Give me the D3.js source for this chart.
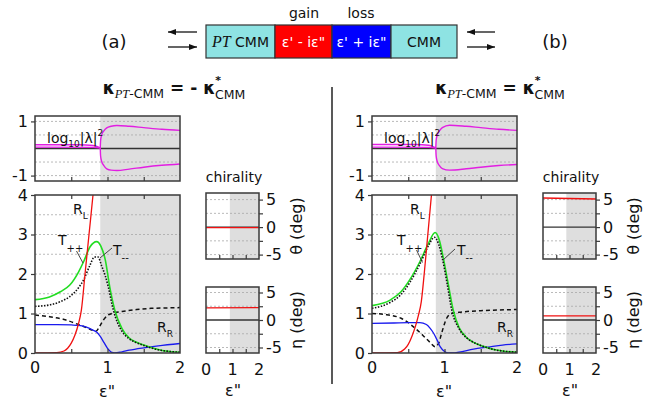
<!DOCTYPE html>
<html><head><meta charset="utf-8">
<script src="https://cdn.jsdelivr.net/npm/d3@7"></script>
<style>
body{margin:0;background:#fff}
svg{display:block}
text{font-family:"DejaVu Sans",Verdana,sans-serif;fill:#111}
</style>
</head><body>
<svg id="c" width="664" height="407"></svg>
<script>
// ---------- tick labels ----------
const xTickLabels = [0, 1, 2];
const xMinorTicks = [0.5, 1, 1.5];
const mainTicks = [0, 1, 2, 3, 4];
const mainGrid = [0.5, 1, 1.5, 2, 2.5, 3, 3.5];
const logTicks = [-1, 1];
const logGrid = [-1, -0.5, 0.5, 1];
const chiTicks = [-5, 0, 5];
const chiTickMarks = [-5, -2.5, 0, 2.5, 5];
const chiGrid = [-5, -2.5, 2.5, 5];

// ---------- panel (a) data ----------
const a_EP = 0.9;
const a_logUp1 = [[0,0.14],[0.6,0.14],[0.8,0.11],[0.87,0.06],[0.9,0.02]];
const a_logUp2 = [[0,0.05],[0.8,0.04],[0.9,0.02]];
const a_logA = [[0.9,0.02],[0.905,0.3],[0.92,0.5],[0.95,0.65],[0.99,0.76],[1.05,0.82],[1.13,0.85],[1.3,0.82],[1.5,0.77],[1.75,0.71],[2,0.67]];
const a_logB = [[0.9,0.02],[0.905,-0.28],[0.92,-0.48],[0.95,-0.63],[0.99,-0.75],[1.05,-0.8],[1.13,-0.81],[1.3,-0.76],[1.5,-0.69],[1.75,-0.62],[2,-0.57]];
const a_RL = [[0,0],[0.3,0.01],[0.4,0.05],[0.45,0.12],[0.5,0.25],[0.55,0.45],[0.6,0.74],[0.64,1.09],[0.69,2.0],[0.745,3.0],[0.8,4.0],[0.82,4.4]];
const a_Tpp = [[0,1.35],[0.2,1.42],[0.35,1.55],[0.48,1.72],[0.6,2.05],[0.67,2.31],[0.76,2.69],[0.85,2.82],[0.91,2.7],[0.97,2.35],[1.03,1.68],[1.1,1.09],[1.2,0.62],[1.3,0.38],[1.4,0.27],[1.5,0.2],[1.6,0.14],[1.7,0.09],[1.8,0.05],[2,0.02]];
const a_Tmm = [[0,1.18],[0.21,1.22],[0.35,1.3],[0.48,1.43],[0.6,1.65],[0.67,1.85],[0.76,2.23],[0.82,2.43],[0.87,2.43],[0.92,2.2],[0.97,1.95],[1.01,1.68],[1.08,1.09],[1.2,0.55],[1.3,0.36],[1.4,0.26],[1.5,0.19],[1.6,0.13],[1.7,0.08],[1.8,0.05],[2,0.02]];
const a_Rdash = [[0,0.96],[0.2,0.92],[0.4,0.85],[0.6,0.72],[0.7,0.65],[0.8,0.57],[0.84,0.55],[0.9,0.7],[0.95,0.85],[1.0,0.95],[1.1,1.02],[1.2,1.05],[1.4,1.1],[1.6,1.13],[1.8,1.14],[2,1.15]];
const a_RR = [[0,0.72],[0.3,0.72],[0.5,0.71],[0.6,0.7],[0.7,0.66],[0.8,0.58],[0.85,0.53],[0.9,0.42],[0.95,0.27],[1.0,0.12],[1.05,0.02],[1.1,0.0],[1.2,0.03],[1.3,0.07],[1.5,0.13],[1.7,0.18],[2,0.24]];
const a_theta = [[0,-0.1],[2,-0.1]];
const a_eta = [[0,2.2],[2,2.25]];

// ---------- panel (b) data ----------
const b_EP = 0.88;
const b_logUp1 = [[0,0.15],[0.6,0.15],[0.78,0.12],[0.85,0.06],[0.88,0.02]];
const b_logUp2 = [[0,0.05],[0.78,0.04],[0.88,0.02]];
const b_logA = [[0.88,0.02],[0.885,0.3],[0.9,0.5],[0.93,0.65],[0.97,0.77],[1.07,0.86],[1.3,0.82],[1.5,0.77],[1.75,0.71],[2,0.67]];
const b_logB = [[0.88,0.02],[0.885,-0.28],[0.9,-0.48],[0.93,-0.63],[0.97,-0.74],[1.07,-0.8],[1.3,-0.75],[1.5,-0.69],[1.75,-0.63],[2,-0.59]];
const b_RL = [[0,0],[0.35,0.01],[0.45,0.1],[0.5,0.22],[0.55,0.42],[0.6,0.68],[0.64,0.95],[0.68,1.3],[0.72,2.0],[0.77,3.0],[0.82,4.0],[0.84,4.4]];
const b_Tpp = [[0,1.2],[0.25,1.34],[0.4,1.55],[0.52,1.85],[0.66,2.31],[0.78,2.78],[0.87,3.05],[0.93,2.85],[0.98,2.44],[1.05,1.76],[1.12,1.09],[1.2,0.65],[1.3,0.4],[1.4,0.27],[1.5,0.19],[1.6,0.13],[1.7,0.08],[1.8,0.05],[2,0.02]];
const b_Tmm = [[0,1.13],[0.25,1.28],[0.4,1.48],[0.52,1.78],[0.66,2.25],[0.78,2.72],[0.86,2.93],[0.92,2.75],[0.97,2.4],[1.04,1.72],[1.1,1.09],[1.2,0.62],[1.3,0.39],[1.4,0.27],[1.5,0.19],[1.6,0.13],[1.7,0.08],[1.8,0.05],[2,0.02]];
const b_Rdash = [[0,1.0],[0.2,0.97],[0.4,0.88],[0.6,0.62],[0.7,0.45],[0.8,0.27],[0.87,0.16],[0.92,0.25],[0.96,0.5],[1.03,0.88],[1.1,1.0],[1.2,1.03],[1.5,1.07],[2,1.1]];
const b_RR = [[0,0.75],[0.3,0.76],[0.5,0.77],[0.66,0.77],[0.75,0.72],[0.8,0.63],[0.85,0.5],[0.9,0.32],[0.94,0.16],[1.0,0.04],[1.05,0.0],[1.12,0.0],[1.2,0.02],[1.4,0.1],[1.6,0.15],[1.8,0.2],[2,0.23]];
const b_theta = [[0,5.3],[2,5.1]];
const b_eta = [[0,0.75],[2,0.75]];

// ---------- drawing ----------
const svg = d3.select('#c');
const C = {red:'#f01010', green:'#22dd22', blue:'#1a1aee', mag:'#e21ee2', shade:'#dedede', frame:'#3a3a3a', grid:'#a8a8a8'};
const FF = '"DejaVu Sans",Verdana,sans-serif';

function subText(g, x, y, main, sub, size, subSize, opts={}) {
  const t = g.append('text').attr('x', x).attr('y', y).attr('font-size', size);
  t.append('tspan').text(main);
  t.append('tspan').attr('font-size', subSize).attr('dy', opts.dy || 4).text(sub);
  return t;
}

function styleAxis(ax) {
  ax.select('.domain').remove();
  ax.selectAll('line').attr('stroke', C.frame).attr('stroke-width', 1.2);
  ax.selectAll('text').attr('font-size', 16).attr('font-family', FF).attr('fill', '#111');
}

function drawSide(dx, d, key) {
  const g = svg.append('g').attr('transform', `translate(${dx},0)`);
  const x = d3.scaleLinear().domain([0, 2]).range([35, 180]);
  const yM = d3.scaleLinear().domain([0, 4]).range([353, 195]);
  const yL = d3.scaleLinear().domain([-1.2, 1.2]).range([181, 116]);
  const xc = d3.scaleLinear().domain([0, 2]).range([206, 259]);
  const yT = d3.scaleLinear().domain([-5.8, 6.2]).range([259, 193]);
  const yE = d3.scaleLinear().domain([-6, 6]).range([353, 287]);

  const defs = g.append('defs');
  function clip(id, x0, y0, w, h) {
    defs.append('clipPath').attr('id', id).append('rect').attr('x', x0).attr('y', y0).attr('width', w).attr('height', h);
    return `url(#${id})`;
  }

  function framePanel(xs, ys, opts) {
    const [x0, x1] = xs.range(); const [y1, y0] = ys.range();
    g.append('rect').attr('x', xs(opts.ep)).attr('y', y0).attr('width', xs(2) - xs(opts.ep)).attr('height', y1 - y0).attr('fill', C.shade);
    g.selectAll(null).data(opts.grid).enter().append('line')
      .attr('x1', x0).attr('x2', x1).attr('y1', v => ys(v)).attr('y2', v => ys(v))
      .attr('stroke', C.grid).attr('stroke-width', 0.8).attr('stroke-dasharray', '2,2');
    if (opts.zero) {
      g.append('line').attr('x1', x0).attr('x2', x1).attr('y1', ys(0)).attr('y2', ys(0))
        .attr('stroke', '#333').attr('stroke-width', 1.3);
    }
    const cp = clip(`clip-${key}-${opts.id}`, x0, y0, x1 - x0, y1 - y0);
    return g.append('g').attr('clip-path', cp);
  }

  function frameTicks(xs, ys, opts) {
    const [x0, x1] = xs.range(); const [y1, y0] = ys.range();
    g.append('rect').attr('x', x0).attr('y', y0).attr('width', x1 - x0).attr('height', y1 - y0)
      .attr('fill', 'none').attr('stroke', C.frame).attr('stroke-width', 1.5);
    const bx = g.append('g').attr('transform', `translate(0,${y1})`).call(d3.axisTop(xs).tickValues(xMinorTicks).tickSize(4).tickFormat(''));
    styleAxis(bx);
    if (opts.topTicks) {
      const tx = g.append('g').attr('transform', `translate(0,${y0})`).call(d3.axisBottom(xs).tickValues(xMinorTicks).tickSize(4).tickFormat(''));
      styleAxis(tx);
    }
    if (opts.xLabels) {
      g.selectAll(null).data(xTickLabels).enter().append('text')
        .attr('x', v => xs(v)).attr('y', opts.xLabelY).attr('text-anchor', 'middle').attr('font-size', 16).text(v => v);
    }
  }

  const line = (xs, ys) => d3.line().x(p => xs(p[0])).y(p => ys(p[1])).curve(d3.curveMonotoneX);
  const fmt = v => String(v);

  // ---- top: log10|lambda|^2 ----
  const lt = framePanel(x, yL, {ep: d.ep, grid: logGrid, zero: true, id: 'log'});
  const lgen = line(x, yL);
  [d.logUp1, d.logUp2, d.logA, d.logB].forEach(s =>
    lt.append('path').attr('d', lgen(s)).attr('fill', 'none').attr('stroke', C.mag).attr('stroke-width', 1.4));
  frameTicks(x, yL, {});
  const ly = g.append('g').attr('transform', 'translate(35,0)').call(d3.axisLeft(yL).tickValues(logTicks).tickSize(4).tickPadding(3).tickFormat(fmt));
  styleAxis(ly);
  const lab = g.append('text').attr('x', 47).attr('y', 143).attr('font-size', 14);
  lab.append('tspan').text('log');
  lab.append('tspan').attr('font-size', 9).attr('dy', 4).text('10');
  lab.append('tspan').attr('dy', -4).text('|λ|');
  lab.append('tspan').attr('font-size', 9).attr('dy', -7).text('2');

  // ---- main panel ----
  const mt = framePanel(x, yM, {ep: d.ep, grid: mainGrid, zero: false, id: 'main'});
  const mgen = line(x, yM);
  mt.append('path').attr('d', mgen(d.Rdash)).attr('fill', 'none').attr('stroke', '#111').attr('stroke-width', 1.5).attr('stroke-dasharray', '4,3');
  mt.append('path').attr('d', mgen(d.RR)).attr('fill', 'none').attr('stroke', C.blue).attr('stroke-width', 1.3);
  mt.append('path').attr('d', mgen(d.Tpp)).attr('fill', 'none').attr('stroke', C.green).attr('stroke-width', 1.6);
  mt.append('path').attr('d', mgen(d.Tmm)).attr('fill', 'none').attr('stroke', '#111').attr('stroke-width', 1.6).attr('stroke-dasharray', '1.5,1.5');
  mt.append('path').attr('d', mgen(d.RL)).attr('fill', 'none').attr('stroke', C.red).attr('stroke-width', 1.3);
  frameTicks(x, yM, {topTicks: true, xLabels: true, xLabelY: 373});
  const my = g.append('g').attr('transform', 'translate(35,0)').call(d3.axisLeft(yM).tickValues(mainTicks).tickSize(4).tickPadding(3).tickFormat(fmt));
  styleAxis(my);
  g.append('text').attr('x', 107).attr('y', 397).attr('text-anchor', 'middle').attr('font-size', 16).text('ε"');

  // annotations
  const L = d.labels;
  subText(g, L.RL[0], L.RL[1], 'R', 'L', 14, 9, {dy: 5});
  subText(g, L.Tpp[0], L.Tpp[1], 'T', '++', 14, 10, {dy: 7});
  subText(g, L.Tmm[0], L.Tmm[1], 'T', '--', 14, 10, {dy: 6});
  subText(g, L.RR[0], L.RR[1], 'R', 'R', 14, 9, {dy: 5});
  [L.lTpp, L.lTmm].forEach(s => g.append('line').attr('x1', s[0]).attr('y1', s[1]).attr('x2', s[2]).attr('y2', s[3]).attr('stroke', '#333').attr('stroke-width', 0.9));

  // ---- chirality panels ----
  g.append('text').attr('x', 234).attr('y', 182).attr('text-anchor', 'middle').attr('font-size', 14).text('chirality');
  [[yT, d.theta, 'θ (deg)', 'th'], [yE, d.eta, 'η (deg)', 'eta']].forEach(([ys, data, title, id], i) => {
    const layer = framePanel(xc, ys, {ep: d.ep, grid: chiGrid, zero: true, id});
    layer.append('path').attr('d', line(xc, ys)(data)).attr('fill', 'none').attr('stroke', C.red).attr('stroke-width', 1.4);
    frameTicks(xc, ys, {xLabels: i === 1, xLabelY: 375});
    const ay = g.append('g').attr('transform', 'translate(259,0)').call(d3.axisRight(ys).tickValues(chiTickMarks).tickSize(4).tickPadding(3).tickFormat(v => chiTicks.includes(v) ? fmt(v) : ''));
    styleAxis(ay);
    const cy = (ys.range()[0] + ys.range()[1]) / 2;
    g.append('text').attr('transform', `translate(302,${cy}) rotate(-90)`).attr('text-anchor', 'middle').attr('font-size', 16).text(title);
  });
  g.append('text').attr('x', 233).attr('y', 396).attr('text-anchor', 'middle').attr('font-size', 16).text('ε"');
}

drawSide(0, {
  ep: a_EP, logUp1: a_logUp1, logUp2: a_logUp2, logA: a_logA, logB: a_logB,
  RL: a_RL, Tpp: a_Tpp, Tmm: a_Tmm, Rdash: a_Rdash, RR: a_RR, theta: a_theta, eta: a_eta,
  labels: {RL: [73, 214], Tpp: [58, 245], Tmm: [113, 255], RR: [157, 332], lTpp: [76.5, 251, 83, 263], lTmm: [112, 248, 100, 258]}
}, 'a');
drawSide(337, {
  ep: b_EP, logUp1: b_logUp1, logUp2: b_logUp2, logA: b_logA, logB: b_logB,
  RL: b_RL, Tpp: b_Tpp, Tmm: b_Tmm, Rdash: b_Rdash, RR: b_RR, theta: b_theta, eta: b_eta,
  labels: {RL: [73, 214], Tpp: [60, 245], Tmm: [120, 255], RR: [160, 332], lTpp: [79.5, 250, 85.5, 262.5], lTmm: [118, 249, 106, 260]}
}, 'b');

// ---------- titles ----------
function kappaTitle(cx, y, minus) {
  const t = svg.append('text').attr('x', cx).attr('y', y).attr('text-anchor', 'middle').attr('font-size', 17).attr('font-weight', 'bold');
  t.append('tspan').text('κ');
  t.append('tspan').attr('font-size', 12.5).attr('font-weight', 'normal').attr('font-style', 'italic').attr('font-family', '"Liberation Serif",serif').attr('dy', 4).text('PT');
  t.append('tspan').attr('font-size', 12.5).attr('font-weight', 'normal').text('-CMM');
  t.append('tspan').attr('dy', -4).text(minus ? ' = - κ' : ' = κ');
  t.append('tspan').attr('font-size', 11).attr('dy', -10).text('*');
  t.append('tspan').attr('font-size', 12.5).attr('font-weight', 'normal').attr('dx', -6).attr('dy', 15).text('CMM');
}
kappaTitle(174, 94, true);
kappaTitle(500, 94, false);

// divider
svg.append('line').attr('x1', 332).attr('x2', 332).attr('y1', 87).attr('y2', 384).attr('stroke', '#222').attr('stroke-width', 1.5);

// ---------- schematic ----------
const boxSegs = [[206, 275, '#8ee3e3'], [275, 332, '#ff0000'], [332, 391, '#0000ff'], [391, 457, '#8ee3e3']];
boxSegs.forEach(s => svg.append('rect').attr('x', s[0]).attr('y', 25).attr('width', s[1] - s[0]).attr('height', 33).attr('fill', s[2]).attr('stroke', '#333').attr('stroke-width', 1.2));
const t1 = svg.append('text').attr('x', 240.5).attr('y', 46.5).attr('text-anchor', 'middle').attr('font-size', 14);
t1.append('tspan').attr('font-family', '"Liberation Serif",serif').attr('font-style', 'italic').attr('font-size', 16).text('PT');
t1.append('tspan').text(' CMM');
svg.append('text').attr('x', 303.5).attr('y', 46.5).attr('text-anchor', 'middle').attr('font-size', 14).style('fill', '#fff').text("ε' - iε\"");
svg.append('text').attr('x', 361.5).attr('y', 46.5).attr('text-anchor', 'middle').attr('font-size', 14).style('fill', '#fff').text("ε' + iε\"");
svg.append('text').attr('x', 424).attr('y', 46.5).attr('text-anchor', 'middle').attr('font-size', 14).text('CMM');
svg.append('text').attr('x', 304).attr('y', 18).attr('text-anchor', 'middle').attr('font-size', 14).text('gain');
svg.append('text').attr('x', 361).attr('y', 18).attr('text-anchor', 'middle').attr('font-size', 14).text('loss');
svg.append('text').attr('x', 114).attr('y', 48).attr('text-anchor', 'middle').attr('font-size', 18).text('(a)');
svg.append('text').attr('x', 555).attr('y', 48).attr('text-anchor', 'middle').attr('font-size', 18).text('(b)');

function arrow(x1, x2, y) {
  svg.append('line').attr('x1', x1).attr('x2', x2).attr('y1', y).attr('y2', y).attr('stroke', '#111').attr('stroke-width', 1.3);
  const dir = Math.sign(x2 - x1);
  svg.append('path').attr('d', `M${x2},${y} L${x2 - dir * 8},${y - 3} L${x2 - dir * 8},${y + 3} Z`).attr('fill', '#111');
}
arrow(197, 168, 32); arrow(168, 197, 47);
arrow(495, 467, 32); arrow(467, 495, 47);
</script>
</body></html>
